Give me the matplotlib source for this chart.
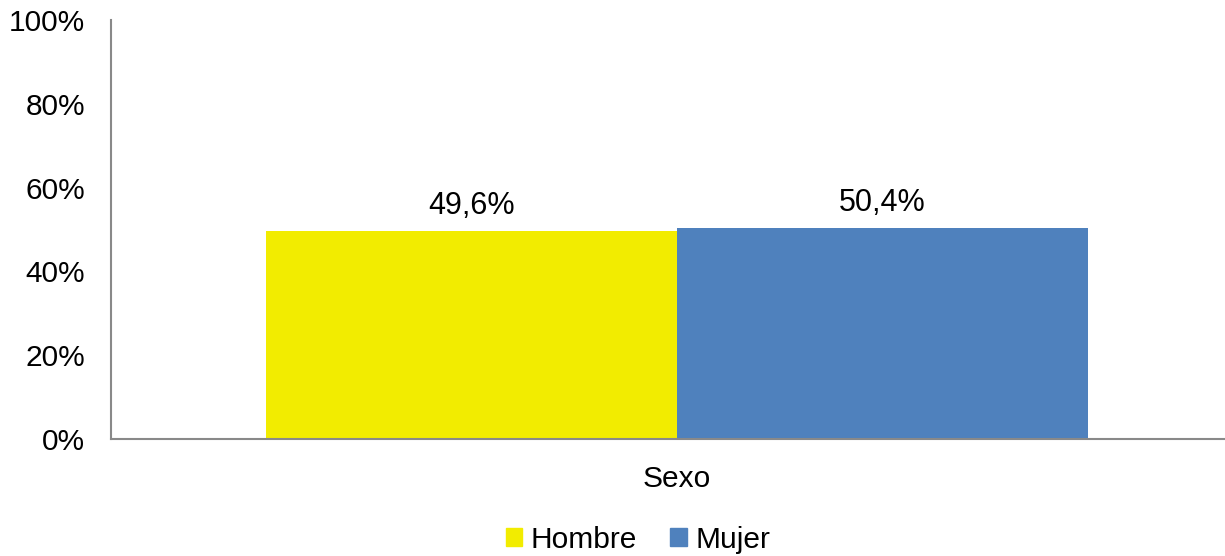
import matplotlib
matplotlib.use("Agg")
import matplotlib.pyplot as plt
from matplotlib.patches import Patch

categories = ["Sexo"]
series_names = ["Hombre", "Mujer"]
values = [49.6, 50.4]
labels = ["49,6%", "50,4%"]
colors = ["#F2EC00", "#4F81BD"]
yticks = [0, 20, 40, 60, 80, 100]
ytick_labels = ["0%", "20%", "40%", "60%", "80%", "100%"]

plt.rcParams["font.family"] = ["Liberation Sans", "DejaVu Sans"]
FS = 21.5

W, H = 1225, 556
fig = plt.figure(figsize=(W / 100, H / 100), dpi=100)
left, right, bottom, top = 111, 1243, 439, 20
ax = fig.add_axes([left / W, (H - bottom) / H, (right - left) / W, (bottom - top) / H])

width = 0.363
offsets = [-width / 2, width / 2]
for name, v, lab, c, off in zip(series_names, values, labels, colors, offsets):
    ax.bar(0 + off, v, width=width, color=c, label=name)
    ax.annotate(lab, (0 + off, v), xytext=(0, 12.3), textcoords="offset points",
                ha="center", va="baseline", fontsize=22)

ax.set_xlim(-0.5, 0.5)
ax.set_ylim(0, 100)
ax.set_yticks(yticks)
ax.set_yticklabels(ytick_labels, fontsize=FS)
ax.set_xticks([0])
ax.set_xticklabels(categories, fontsize=FS)
ax.tick_params(axis="both", length=0)
ax.tick_params(axis="y", pad=18.5)
ax.tick_params(axis="x", pad=19)
for s in ["top", "right"]:
    ax.spines[s].set_visible(False)
for s in ["left", "bottom"]:
    ax.spines[s].set_color("#898989")
    ax.spines[s].set_linewidth(1.5)

handles = [Patch(color=c, label=n) for n, c in zip(series_names, colors)]
fig.legend(handles=handles, loc="center", bbox_to_anchor=(638 / W, 1 - 540 / H),
           ncol=2, frameon=False, fontsize=FS, handlelength=0.55, handleheight=0.55,
           handletextpad=0.3, columnspacing=1.1, borderpad=0)

fig.savefig("out.png", dpi=100)
